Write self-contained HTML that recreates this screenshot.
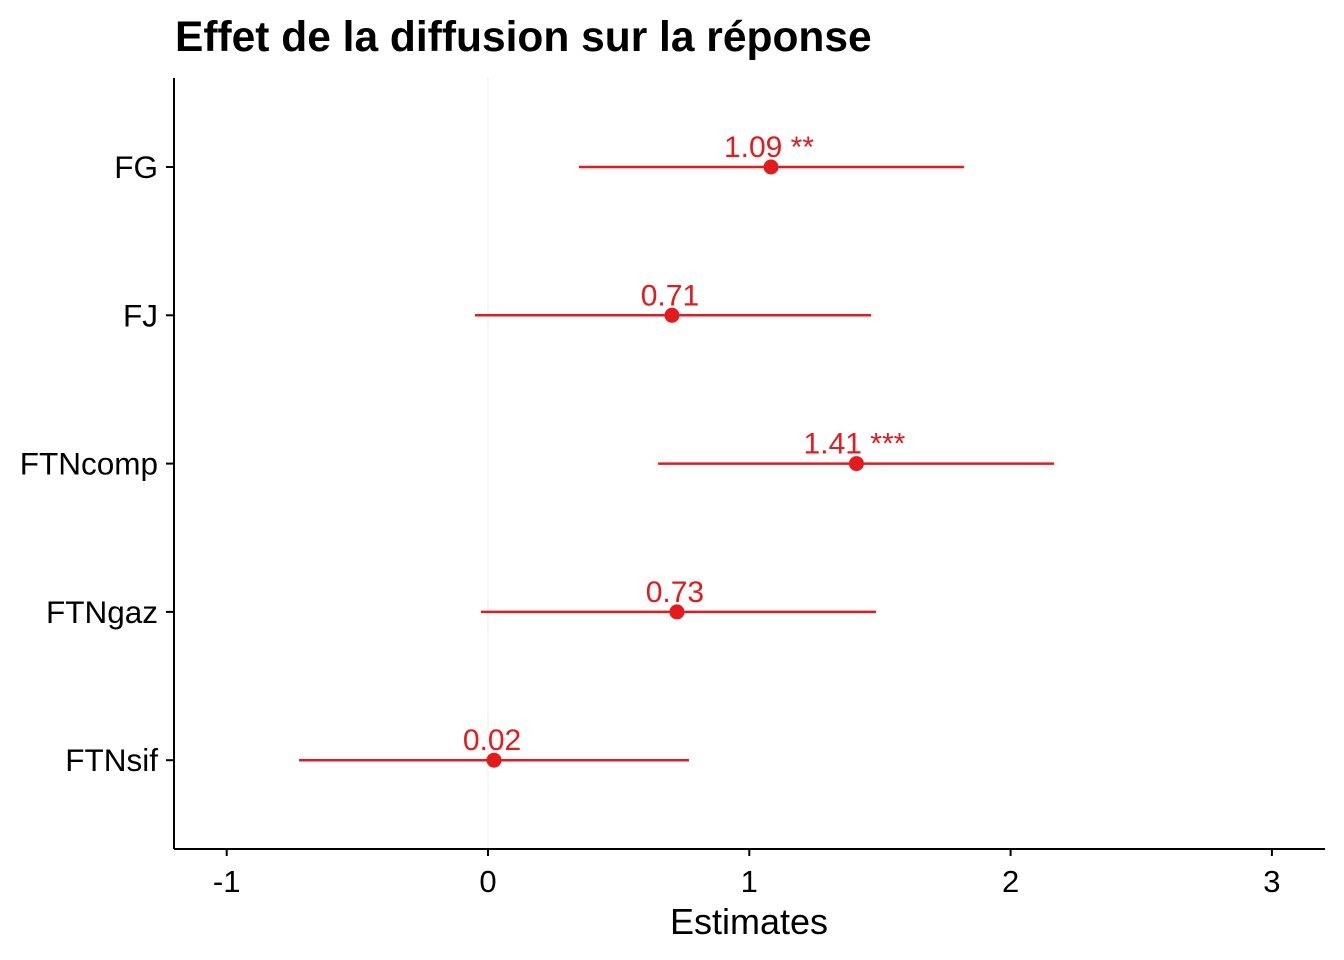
<!DOCTYPE html>
<html><head><meta charset="utf-8"><style>
body{margin:0;background:#fff}
svg{display:block;font-family:"Liberation Sans",Arial,sans-serif}
</style></head><body>
<svg id="chart" width="1344" height="960">
<text x="175" y="51" font-size="42.5" font-weight="bold" fill="#000">Effet de la diffusion sur la réponse</text>
<g id="plot"></g>
</svg>
<script>
const terms = ["FG","FJ","FTNcomp","FTNgaz","FTNsif"];
const estimates = [1.083,0.704,1.41,0.723,0.023];
const lower = [0.348,-0.05,0.651,-0.027,-0.723];
const upper = [1.822,1.466,2.166,1.485,0.769];
const labels = ["1.09 **","0.71","1.41 ***","0.73","0.02"];
const xTicks = [-1,0,1,2,3];
const NS="http://www.w3.org/2000/svg";
const g=document.getElementById('plot');
const x=v=>488+v*261.3;
const y=i=>167+i*148.3;
function mk(t,a,p){const e=document.createElementNS(NS,t);for(const k in a)e.setAttribute(k,a[k]);(p||g).appendChild(e);return e;}
let e;
e=mk('line',{x1:x(0),x2:x(0),y1:78,y2:849,stroke:'#ebebeb','stroke-width':1});


e=mk('line',{x1:174,x2:174,y1:78,y2:849,stroke:'#000','stroke-width':2});


e=mk('line',{x1:174,x2:1325,y1:849,y2:849,stroke:'#000','stroke-width':2});


xTicks.forEach(v=>{
 e=mk('line',{x1:x(v),x2:x(v),y1:849,y2:856,stroke:'#000','stroke-width':2});
 
 
 e=mk('text',{x:x(v),y:892,'font-size':31,'text-anchor':'middle',fill:'#000'});
 e.textContent=v;
 
 
});
terms.forEach((t,i)=>{
 e=mk('line',{x1:166,x2:174,y1:y(i),y2:y(i),stroke:'#000','stroke-width':2});
 
 
 e=mk('text',{x:158,y:y(i)+11,'font-size':31.5,'text-anchor':'end',fill:'#000'});
 e.textContent=t;
 
 
 e=mk('line',{x1:x(lower[i]),x2:x(upper[i]),y1:y(i),y2:y(i),stroke:'#e41a1c','stroke-width':2.5});
 
 
 e=mk('circle',{cx:x(estimates[i]),cy:y(i),r:7.5,fill:'#e41a1c'});
 
 
 e=mk('text',{x:x(estimates[i])-2,y:y(i)-10,'font-size':30,'text-anchor':'middle',fill:'#e41a1c'});
 e.textContent=labels[i];
 
 
});
e=mk('text',{x:749,y:934,'font-size':36,'text-anchor':'middle',fill:'#000'});
e.textContent='Estimates';


</script>
</body></html>
